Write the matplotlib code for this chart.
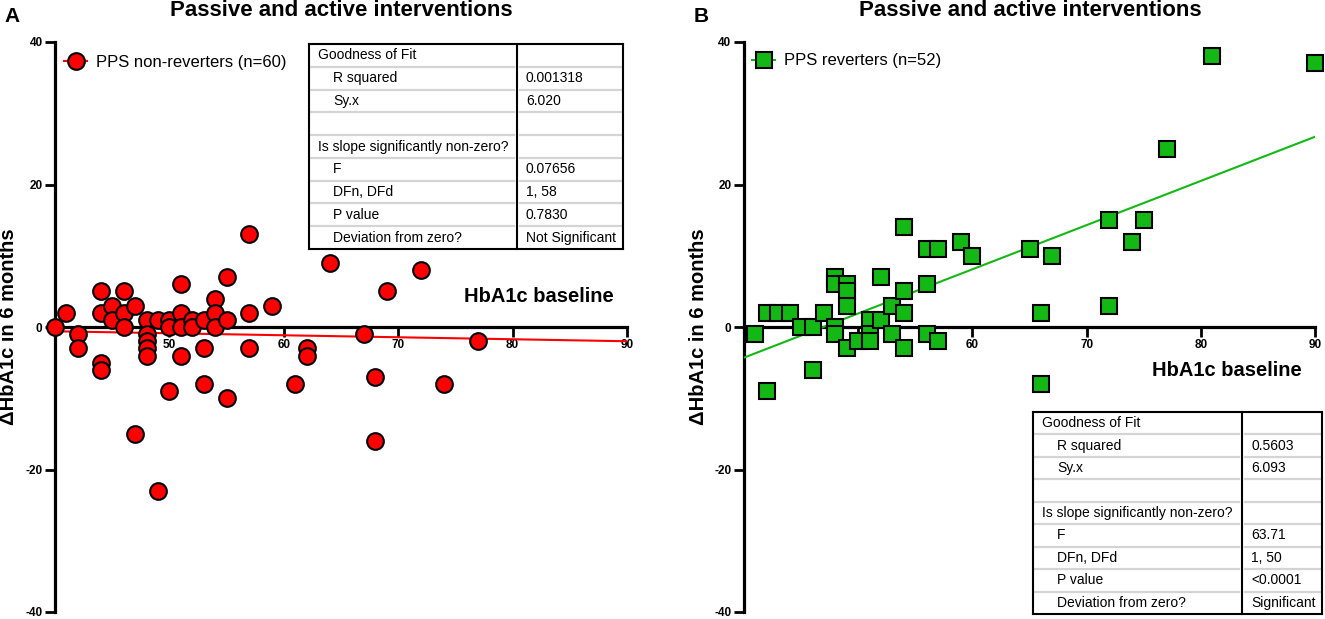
import matplotlib
matplotlib.use("Agg")
import matplotlib.pyplot as plt
from matplotlib.lines import Line2D

# Panel A: PPS non-reverters (HbA1c baseline vs change at 6 months)
nonrev_x = [40, 41, 42, 42, 44, 44, 44, 44, 45, 45, 46, 46, 46, 47, 47,
            48, 48, 48, 48, 48, 49, 49, 50, 50, 50, 51, 51, 51, 51, 52,
            52, 53, 53, 53, 54, 54, 54, 55, 55, 55, 57, 57, 57, 59, 61,
            62, 62, 64, 67, 68, 68, 69, 72, 74, 77]
nonrev_y = [0, 2, -1, -3, 5, 2, -5, -6, 3, 1, 5, 2, 0, 3, -15,
            1, -1, -2, -3, -4, 1, -23, 1, 0, -9, 6, 2, 0, -4, 1,
            0, 1, -3, -8, 4, 2, 0, 7, 1, -10, 13, 2, -3, 3, -8,
            -3, -4, 9, -1, -7, -16, 5, 8, -8, -2]

# Panel B: PPS reverters
rev_x = [41, 42, 42, 43, 44, 45, 46, 46, 47, 48, 48, 48, 48, 49, 49,
         49, 49, 50, 51, 51, 51, 52, 52, 53, 53, 54, 54, 54, 54, 56,
         56, 56, 57, 57, 59, 60, 65, 66, 66, 67, 72, 72, 74, 75, 77,
         81, 90]
rev_y = [-1, 2, -9, 2, 2, 0, 0, -6, 2, 7, 6, 0, -1, 6, 5,
         3, -3, -2, 1, -1, -2, 7, 1, 3, -1, 14, 5, 2, -3, 11,
         6, -1, 11, -2, 12, 10, 11, 2, -8, 10, 15, 3, 12, 15, 25,
         38, 37]

# linear fit lines (end points)
fit_x = [40, 90]
fit_nonrev_y = [-0.6, -2.0]
fit_rev_y = [-4.3, 26.7]

x_ticks = [50, 60, 70, 80, 90]
y_ticks = [-40, -20, 0, 20, 40]

table_labels = ["Goodness of Fit", "R squared", "Sy.x", "",
                "Is slope significantly non-zero?", "F", "DFn, DFd",
                "P value", "Deviation from zero?"]
table_indent = [0, 1, 1, 0, 0, 1, 1, 1, 1]
table_nonrev = ["", "0.001318", "6.020", "", "", "0.07656", "1, 58",
                "0.7830", "Not Significant"]
table_rev = ["", "0.5603", "6.093", "", "", "63.71", "1, 50",
             "<0.0001", "Significant"]

W, H = 1325, 619
plt.rcParams["font.family"] = ["Liberation Sans", "DejaVu Sans"]
plt.rcParams["axes.unicode_minus"] = False

fig = plt.figure(figsize=(W / 100, H / 100), dpi=100)


def px(x, y):
    # pixel position (from top left) -> figure fraction
    return x / W, 1 - y / H


def add_panel(left, right, xs, ys, fx, fy, color, marker, ms):
    ax = fig.add_axes([left / W, 1 - 612 / H, (right - left) / W, 570 / H])
    ax.set_xlim(40, 90)
    ax.set_ylim(-40, 40)
    for s in ["top", "right"]:
        ax.spines[s].set_visible(False)
    ax.spines["bottom"].set_position(("data", 0))
    ax.spines["left"].set_linewidth(2.3)
    ax.spines["bottom"].set_linewidth(2.3)
    ax.set_xticks(x_ticks)
    ax.set_yticks(y_ticks)
    ax.tick_params(direction="out", length=7, width=2, labelsize=8.5, pad=2)
    for t in ax.get_xticklabels() + ax.get_yticklabels():
        t.set_fontweight("bold")
    ax.plot(fx, fy, color=color, lw=1.5, zorder=2.6)
    ax.plot(xs, ys, ls="none", marker=marker, ms=ms, mfc=color, mec="black",
            mew=1.5, zorder=3, clip_on=False)
    ax.patch.set_alpha(0)
    return ax


ax1 = add_panel(55, 627, nonrev_x, nonrev_y, fit_x, fit_nonrev_y,
                "#ff0000", "o", 12)
ax2 = add_panel(744, 1315, rev_x, rev_y, fit_x, fit_rev_y,
                "#14b814", "s", 11)

# legends
for (mx, my, color, marker, ms, label) in [
        (78, 62, "#ff0000", "o", 12, "PPS non-reverters (n=60)"),
        (766, 61, "#14b814", "s", 11, "PPS reverters (n=52)")]:
    h = Line2D([], [], color=color, lw=1.5, marker=marker, ms=ms, mfc=color,
               mec="black", mew=1.5)
    x0, y0 = px(mx - 14, my)
    fig.legend([h], [label], loc="center left", bbox_to_anchor=(x0, y0),
               frameon=False, handlelength=1.4, handletextpad=0.5,
               borderpad=0, borderaxespad=0, prop={"size": 12})

# titles, panel letters and axis labels
for cx, lx, letter, ylx in [(341, 4, "A", 9), (1030, 694, "B", 698)]:
    fig.text(*px(cx, 11), "Passive and active interventions", ha="center",
             va="center", fontsize=16, fontweight="bold")
    fig.text(*px(lx, 16), letter, ha="left", va="center", fontsize=15,
             fontweight="bold")
    fig.text(*px(ylx, 327), "ΔHbA1c in 6 months", ha="center", va="center",
             rotation=90, fontsize=14.5, fontweight="bold")
fig.text(*px(614, 297), "HbA1c baseline", ha="right", va="center",
         fontsize=14.5, fontweight="bold")
fig.text(*px(1302, 370), "HbA1c baseline", ha="right", va="center",
         fontsize=14.5, fontweight="bold")


def draw_table(x0, xd, x1, y0, y1, values):
    n = len(table_labels)
    rh = (y1 - y0) / n
    for i in range(1, n):
        yy = y0 + i * rh
        for a, b in [(x0 + 2, xd - 3), (xd + 3, x1 - 2)]:
            fig.add_artist(Line2D([px(a, 0)[0], px(b, 0)[0]],
                                  [px(0, yy)[1]] * 2, color="#d4d4d4", lw=1.6))
    for xa, ya, xb, yb in [(x0, y0, x1, y0), (x0, y1, x1, y1),
                           (x0, y0, x0, y1), (x1, y0, x1, y1),
                           (xd, y0, xd, y1)]:
        fig.add_artist(Line2D([px(xa, 0)[0], px(xb, 0)[0]],
                              [px(0, ya)[1], px(0, yb)[1]], color="black",
                              lw=1.5))
    for i, (lab, ind, val) in enumerate(zip(table_labels, table_indent, values)):
        yc = y0 + (i + 0.5) * rh
        fig.text(*px(x0 + 9 + 15 * ind, yc), lab, ha="left", va="center",
                 fontsize=10)
        fig.text(*px(xd + 9, yc), val, ha="left", va="center", fontsize=10)


draw_table(309, 517, 623, 44, 249, table_nonrev)
draw_table(1033, 1242, 1322, 412, 614, table_rev)

fig.savefig("out.png", dpi=100)
